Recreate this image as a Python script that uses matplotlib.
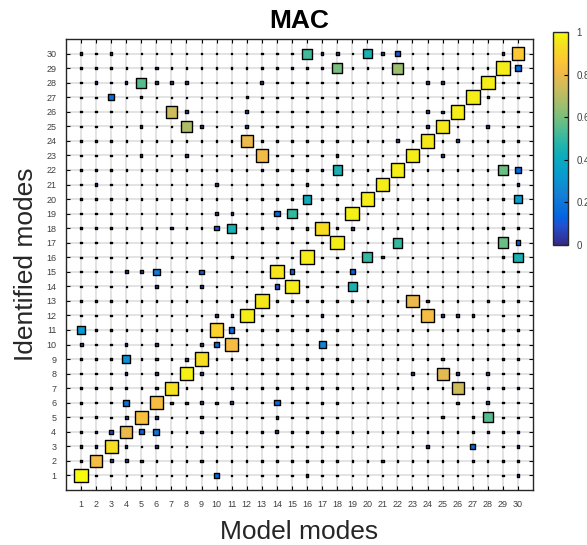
import numpy as np
import matplotlib
matplotlib.use("Agg")
import matplotlib.pyplot as plt
from matplotlib.colors import LinearSegmentedColormap

plt.rcParams['font.family'] = ['Liberation Sans', 'DejaVu Sans']

# modos 1..30 nos dois eixos
n_modes = 30
modes = list(range(1, n_modes + 1))

# valor de fundo (pontinhos)
base_mac = 0.01

# quadrados coloridos: (linha = modo identificado, coluna = modo do modelo, MAC)
mac_rows = [1, 2, 3, 4, 5, 6, 7, 8, 9, 10, 11, 12, 13, 14, 15,
            16, 17, 18, 19, 20, 21, 22, 23, 24, 25, 26, 27, 28, 29, 30,
            23, 24, 25, 26, 28, 13, 12, 8, 7, 5,
            30, 30, 29, 29, 22, 22, 20, 20, 19, 18, 17, 17, 16, 16, 14, 11, 10, 9]
mac_cols = [1, 2, 3, 4, 5, 6, 7, 8, 9, 11, 10, 12, 13, 15, 14,
            16, 18, 17, 19, 20, 21, 22, 23, 24, 25, 26, 27, 28, 29, 30,
            13, 12, 8, 7, 5, 23, 24, 25, 26, 28,
            16, 20, 18, 22, 18, 29, 16, 30, 15, 11, 22, 29, 20, 30, 19, 1, 17, 4]
mac_vals = [1.0, 0.82, 0.93, 0.80, 0.84, 0.83, 0.94, 0.98, 0.93, 0.83, 0.90, 0.97, 0.96, 0.97, 0.95,
            0.97, 0.97, 0.93, 0.98, 0.97, 0.97, 0.97, 0.97, 0.96, 0.96, 0.97, 0.97, 0.97, 0.97, 0.87,
            0.82, 0.80, 0.68, 0.74, 0.55, 0.80, 0.83, 0.78, 0.74, 0.55,
            0.52, 0.45, 0.60, 0.65, 0.45, 0.58, 0.42, 0.35, 0.50, 0.45, 0.50, 0.58, 0.50, 0.45, 0.45,
            0.33, 0.25, 0.30]

# quadrados azuis pequenos
blue_rows = [27, 19, 18, 29, 22, 17, 30, 15, 15, 15, 15, 14, 11, 10, 6, 6, 4, 4, 3, 1]
blue_cols = [3, 14, 10, 30, 30, 30, 22, 6, 9, 15, 19, 14, 11, 10, 4, 14, 5, 6, 27, 10]
blue_vals = [0.17, 0.15, 0.10, 0.15, 0.15, 0.12, 0.10, 0.22, 0.10, 0.12, 0.12, 0.10, 0.15, 0.15,
             0.18, 0.16, 0.12, 0.20, 0.15, 0.15]

# quadradinhos azul-escuro
navy_rows = [28, 28, 26, 26, 25, 30, 30, 26, 25, 25, 24, 24, 23, 18, 18, 15, 15, 13,
             10, 10, 10, 9, 9, 8, 6, 6, 5, 5, 5, 4, 4, 2, 2, 2, 12, 11, 8, 6]
navy_cols = [8, 13, 8, 12, 12, 18, 21, 24, 24, 28, 22, 26, 25, 16, 19, 4, 5, 15,
             1, 6, 9, 6, 8, 9, 9, 11, 4, 6, 14, 3, 14, 3, 4, 5, 26, 17, 28, 28]
navy_vals = [0.05, 0.04, 0.04, 0.05, 0.05, 0.05, 0.04, 0.04, 0.04, 0.04, 0.04, 0.05, 0.04, 0.04,
             0.04, 0.04, 0.04, 0.04, 0.05, 0.04, 0.05, 0.04, 0.05, 0.05, 0.05, 0.04, 0.04, 0.04,
             0.04, 0.06, 0.05, 0.05, 0.05, 0.04, 0.05, 0.04, 0.05, 0.04]

# pontos um pouco maiores
dot_rows = [30, 30, 30, 30, 29, 29, 29, 29, 28, 28, 28, 28, 28, 28, 27, 27, 27, 26, 25, 25,
            24, 24, 24, 24, 24, 23, 23, 23, 22, 21, 21, 21, 21, 20, 20, 19, 19, 18,
            16, 16, 16, 14, 14, 13, 13, 13, 12, 12, 12, 12, 12, 10, 9, 9, 9,
            8, 8, 8, 8, 7, 7, 7, 7, 7, 7, 6, 6, 6, 6, 6, 6, 6,
            5, 5, 5, 5, 4, 4, 4, 3, 3, 3, 3, 3, 3, 2, 2, 2, 1, 1]
dot_cols = [1, 3, 17, 29, 6, 14, 15, 16, 2, 4, 6, 7, 24, 25, 5, 12, 28, 25, 5, 9,
            3, 13, 18, 29, 30, 5, 8, 18, 13, 2, 10, 16, 30, 15, 18, 10, 11, 7,
            11, 21, 29, 6, 9, 19, 24, 28, 10, 11, 17, 25, 27, 4, 2, 18, 25,
            4, 6, 23, 26, 4, 6, 11, 17, 28, 30, 1, 7, 8, 10, 17, 18, 26,
            2, 9, 25, 27, 9, 27, 28, 1, 2, 4, 6, 24, 30, 9, 21, 27, 16, 30]
dot_val = 0.03

# parula aproximado (indice na tabela de 64 cores, rgb)
parula_idx = [0, 6, 8, 15, 21, 27, 31, 36, 41, 46, 51, 55, 58, 61, 63]
parula_rgb = [(0.2081, 0.1663, 0.5292), (0.1253, 0.3242, 0.8303), (0.0117, 0.3875, 0.8820),
              (0.0779, 0.5040, 0.8384), (0.0265, 0.6137, 0.8135), (0.0590, 0.6838, 0.7254),
              (0.1801, 0.7177, 0.6424), (0.3953, 0.7459, 0.5244), (0.6099, 0.7473, 0.4337),
              (0.7858, 0.7356, 0.3633), (0.9450, 0.7261, 0.2886), (0.9955, 0.7861, 0.1967),
              (0.9697, 0.8481, 0.1475), (0.9598, 0.9218, 0.0948), (0.9763, 0.9831, 0.0538)]
parula = LinearSegmentedColormap.from_list(
    "parula", [(i / 63, c) for i, c in zip(parula_idx, parula_rgb)], N=256)

def main():
    mac = np.full((n_modes, n_modes), base_mac)
    for r, c in zip(dot_rows, dot_cols):
        mac[r - 1, c - 1] = dot_val
    for r, c, v in zip(navy_rows, navy_cols, navy_vals):
        mac[r - 1, c - 1] = v
    for r, c, v in zip(blue_rows, blue_cols, blue_vals):
        mac[r - 1, c - 1] = v
    for r, c, v in zip(mac_rows, mac_cols, mac_vals):
        mac[r - 1, c - 1] = v

    X, Y = np.meshgrid(modes, modes)
    x = X.ravel()
    y = Y.ravel()
    v = mac.ravel()
    ordem = np.argsort(v)

    fig = plt.figure(figsize=(5.87, 5.45), dpi=100)
    ax = fig.add_axes([0.1124, 0.1009, 0.7956, 0.8275])
    cax = fig.add_axes([0.942, 0.5505, 0.0256, 0.391])

    sc = ax.scatter(x[ordem], y[ordem], s=98 * v[ordem], c=v[ordem], cmap=parula,
                    vmin=0, vmax=1, marker='s', edgecolors='k', linewidths=1.0, zorder=3)

    ax.set_xlim(0, 31)
    ax.set_ylim(0, 31)
    ax.set_xticks(modes)
    ax.set_yticks(modes)
    ax.grid(True, color='#dedede', lw=1.2)
    ax.set_axisbelow(True)
    ax.tick_params(direction='in', top=True, right=True, length=3, width=0.8,
                   labelsize=6.5, labelcolor='#404040', pad=7)
    for sp in ax.spines.values():
        sp.set_color('#262626')
        sp.set_linewidth(1.0)

    ax.set_title("MAC", fontsize=19, fontweight='bold', pad=8)
    ax.set_xlabel("Model modes", fontsize=19, color='#262626', labelpad=8)
    ax.set_ylabel("Identified modes", fontsize=19, color='#262626', labelpad=6)

    cb = fig.colorbar(sc, cax=cax)
    cb.set_ticks([0, 0.2, 0.4, 0.6, 0.8, 1])
    cb.set_ticklabels(['0', '0.2', '0.4', '0.6', '0.8', '1'])
    cax.tick_params(direction='in', length=3, labelsize=7, labelcolor='#404040', pad=6)
    cb.outline.set_edgecolor('#262626')
    cb.outline.set_linewidth(1.0)

    fig.savefig("out.png", dpi=100)

if __name__ == "__main__":
    main()
